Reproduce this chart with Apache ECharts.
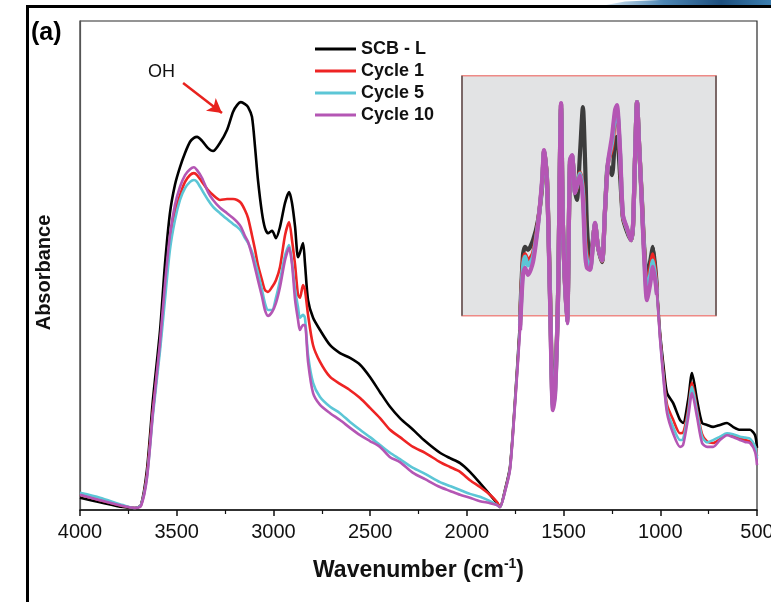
<!DOCTYPE html>
<html>
<head>
<meta charset="utf-8">
<script src="https://cdn.jsdelivr.net/npm/echarts@6/dist/echarts.min.js"></script>
<style>
  html, body { margin: 0; padding: 0; background: #ffffff; }
  #chart { width: 771px; height: 602px; }
</style>
</head>
<body>
<div id="chart"></div>
<script>
// FTIR spectra: wavenumber (cm-1) and absorbance (a.u.) for the raw sample and the recycled ones
const wavenumber = [4000,3897,3778,3716,3685,3654,3623,3586,3561,3535,3509,3483,3457,3431,3411,3395,3369,3338,3312,3276,3240,3209,3188,3168,3147,3131,3111,3095,3080,3059,3044,3028,3007,2987,2966,2940,2919,2904,2888,2873,2863,2847,2837,2821,2795,2759,2707,2656,2604,2552,2501,2449,2397,2346,2278,2216,2139,2087,2035,1984,1932,1880,1844,1829,
  1803,1777,1751,1725,1710,1699,1684,1658,1632,1611,1601,1586,1570,1555,1544,1529,1513,1503,1482,1467,1456,1441,1431,1415,1400,1389,1379,1363,1337,1322,1301,1286,1270,1250,1234,1224,1208,1193,1172,1151,1141,1131,1120,1110,1095,1084,1069,1053,1038,1017,1001,981,965,934,898,882,856,836,810,784,758,727,691,655,624,588,562,536,510,500];

const scbL = [0.025,0.016,0.006,0.004,0.010,0.082,0.225,0.368,0.501,0.607,0.665,0.701,0.730,0.753,0.761,0.763,0.755,0.740,0.734,0.751,0.777,0.814,0.828,0.834,0.830,0.824,0.804,0.742,0.675,0.607,0.577,0.566,0.571,0.556,0.579,0.628,0.650,0.628,0.579,0.517,0.526,0.546,0.505,0.429,0.393,0.368,0.337,0.321,0.311,0.297,0.272,0.241,0.211,0.188,0.164,0.141,0.117,0.106,0.096,0.078,0.055,0.031,0.014,0.006,
  0.041,0.088,0.225,0.389,0.521,0.538,0.532,0.552,0.593,0.661,0.732,0.681,0.444,0.239,0.266,0.429,0.822,0.579,0.389,0.706,0.720,0.654,0.634,0.730,0.824,0.716,0.579,0.505,0.583,0.538,0.507,0.609,0.706,0.685,0.757,0.763,0.685,0.597,0.569,0.552,0.579,0.712,0.834,0.751,0.634,0.542,0.476,0.507,0.538,0.450,0.362,0.286,0.239,0.219,0.184,0.178,0.225,0.280,0.225,0.178,0.174,0.170,0.174,0.178,0.170,0.164,0.164,0.164,0.153,0.127];

const cycle1 = [0.031,0.020,0.008,0.004,0.010,0.072,0.204,0.337,0.450,0.552,0.609,0.644,0.671,0.685,0.689,0.685,0.671,0.654,0.644,0.634,0.636,0.636,0.634,0.628,0.613,0.597,0.562,0.532,0.501,0.470,0.450,0.446,0.456,0.470,0.497,0.562,0.589,0.552,0.501,0.440,0.434,0.460,0.450,0.399,0.337,0.303,0.272,0.258,0.245,0.229,0.209,0.188,0.164,0.149,0.129,0.117,0.098,0.088,0.078,0.061,0.047,0.031,0.016,0.006,
  0.039,0.085,0.220,0.378,0.505,0.523,0.510,0.525,0.588,0.668,0.734,0.678,0.436,0.215,0.245,0.429,0.830,0.579,0.385,0.712,0.724,0.650,0.660,0.690,0.660,0.560,0.520,0.495,0.585,0.538,0.509,0.611,0.710,0.740,0.800,0.815,0.725,0.600,0.574,0.552,0.581,0.714,0.834,0.751,0.630,0.535,0.455,0.490,0.523,0.445,0.355,0.270,0.215,0.185,0.157,0.158,0.205,0.260,0.205,0.155,0.140,0.137,0.145,0.155,0.152,0.147,0.143,0.140,0.130,0.110];

const cycle5 = [0.035,0.025,0.010,0.004,0.010,0.067,0.194,0.327,0.429,0.532,0.593,0.634,0.658,0.671,0.675,0.671,0.654,0.634,0.620,0.607,0.595,0.585,0.579,0.571,0.556,0.546,0.528,0.507,0.485,0.450,0.423,0.409,0.409,0.434,0.470,0.521,0.542,0.507,0.450,0.415,0.393,0.399,0.393,0.317,0.260,0.231,0.211,0.198,0.180,0.164,0.149,0.133,0.117,0.104,0.086,0.074,0.057,0.049,0.041,0.033,0.027,0.018,0.010,0.006,
  0.038,0.084,0.218,0.375,0.495,0.518,0.500,0.518,0.585,0.670,0.734,0.676,0.432,0.210,0.240,0.429,0.830,0.579,0.383,0.714,0.725,0.649,0.662,0.688,0.650,0.545,0.510,0.493,0.586,0.538,0.510,0.612,0.711,0.750,0.808,0.820,0.730,0.602,0.575,0.552,0.582,0.715,0.834,0.751,0.627,0.530,0.445,0.478,0.510,0.442,0.352,0.262,0.205,0.170,0.143,0.145,0.198,0.252,0.200,0.150,0.138,0.143,0.150,0.157,0.155,0.150,0.148,0.146,0.130,0.105];

const cycle10 = [0.031,0.020,0.008,0.004,0.008,0.065,0.200,0.344,0.460,0.562,0.624,0.661,0.685,0.697,0.701,0.695,0.679,0.650,0.634,0.618,0.607,0.597,0.589,0.579,0.560,0.548,0.521,0.495,0.470,0.436,0.409,0.397,0.405,0.423,0.456,0.511,0.536,0.503,0.429,0.389,0.368,0.378,0.378,0.303,0.239,0.215,0.198,0.184,0.168,0.153,0.141,0.129,0.108,0.098,0.076,0.063,0.047,0.039,0.031,0.025,0.018,0.014,0.010,0.006,
  0.037,0.082,0.215,0.368,0.481,0.495,0.481,0.507,0.583,0.675,0.736,0.675,0.429,0.204,0.235,0.429,0.832,0.579,0.382,0.716,0.726,0.648,0.665,0.685,0.634,0.526,0.495,0.491,0.587,0.538,0.511,0.613,0.712,0.763,0.818,0.828,0.736,0.603,0.577,0.552,0.583,0.716,0.834,0.751,0.624,0.521,0.429,0.460,0.497,0.440,0.348,0.256,0.198,0.157,0.129,0.133,0.188,0.239,0.190,0.137,0.129,0.129,0.143,0.153,0.149,0.143,0.139,0.137,0.119,0.092];

const seriesNames = ['SCB - L', 'Cycle 1', 'Cycle 5', 'Cycle 10'];
const seriesColors = ['#000000', '#ee2424', '#5cc6d6', '#b456b4'];
const detailColors = ['#3c3c3c', '#ee2424', '#5cc6d6', '#b456b4'];
const xTicks = [4000, 3500, 3000, 2500, 2000, 1500, 1000, 500];

// highlighted fingerprint window (wavenumber range, absorbance range)
const windowWn = [2025, 712];
const windowAbs = [0.397, 0.888];
// fingerprint band drawn with heavier strokes
const detailWn = [1745, 1005];
// OH arrow (tail, head) in data units
const ohArrow = [[3467, 0.873], [3266, 0.812]];

const allValues = [scbL, cycle1, cycle5, cycle10];
const toPairs = vals => wavenumber.map((w, i) => [w, vals[i]]);
const inDetail = p => p[0] <= detailWn[0] && p[0] >= detailWn[1];

const baseFont = "'Liberation Sans', Arial, Helvetica, sans-serif";

const series = [];
allValues.forEach((vals, k) => {
  const s = {
    name: seriesNames[k],
    type: 'line',
    data: toPairs(vals),
    showSymbol: false,
    smooth: 0.25,
    z: 3 + k,
    lineStyle: { color: seriesColors[k], width: 2.6 },
    itemStyle: { color: seriesColors[k] },
    emphasis: { disabled: true },
    animation: false
  };
  if (k === 0) {
    s.markArea = {
      silent: true,
      z: 1,
      itemStyle: { color: '#e2e3e4', borderColor: '#ee8a86', borderWidth: 1.5 },
      data: [[{ xAxis: windowWn[0], yAxis: windowAbs[0] }, { xAxis: windowWn[1], yAxis: windowAbs[1] }]]
    };
    s.markLine = {
      silent: true,
      symbol: 'none',
      animation: false,
      label: { show: false },
      data: [
        [{ coord: [windowWn[0], windowAbs[0]], lineStyle: { color: '#555', width: 1.5, type: 'solid' } },
         { coord: [windowWn[0], windowAbs[1]] }],
        [{ coord: [windowWn[1], windowAbs[0]], lineStyle: { color: '#555', width: 1.5, type: 'solid' } },
         { coord: [windowWn[1], windowAbs[1]] }]
      ]
    };
  }
  series.push(s);
});
// heavier strokes through the fingerprint window
allValues.forEach((vals, k) => {
  series.push({
    name: seriesNames[k] + ' detail',
    type: 'line',
    data: toPairs(vals).filter(inDetail),
    showSymbol: false,
    smooth: 0.25,
    z: 10 + k,
    lineStyle: { color: detailColors[k], width: 4.2 },
    emphasis: { disabled: true },
    animation: false
  });
});
// OH arrow
series.push({
  name: 'oh-arrow',
  type: 'line',
  data: [],
  markLine: {
    silent: true,
    symbol: ['none', 'arrow'],
    symbolSize: [12, 14],
    animation: false,
    label: { show: false },
    lineStyle: { color: '#e8221e', width: 2.5, type: 'solid' },
    data: [[{ coord: ohArrow[0] }, { coord: ohArrow[1] }]]
  }
});

const chart = echarts.init(document.getElementById('chart'), null, { renderer: 'canvas' });
chart.setOption({
  backgroundColor: '#ffffff',
  animation: false,
  grid: {
    left: 80, right: 14, top: 21, bottom: 92,
    containLabel: false, outerBoundsMode: 'none',
    show: true, borderColor: '#2a2a2a', borderWidth: 1.2, backgroundColor: 'transparent'
  },
  legend: {
    data: seriesNames,
    orient: 'vertical',
    left: 315,
    top: 40,
    padding: 0,
    itemWidth: 41,
    itemHeight: 3,
    itemGap: 4,
    icon: 'rect',
    selectedMode: false,
    textStyle: { fontFamily: baseFont, fontWeight: 'bold', fontSize: 18, color: '#111', lineHeight: 18 }
  },
  xAxis: {
    type: 'value',
    inverse: true,
    min: 500,
    max: 4000,
    interval: 500,
    name: '{t|Wavenumber (cm}{s|-1}{t|)}',
    nameLocation: 'middle',
    nameGap: 47,
    nameTextStyle: {
      rich: {
        t: { fontFamily: baseFont, fontWeight: 'bold', fontSize: 23, color: '#111', lineHeight: 27 },
        s: { fontFamily: baseFont, fontWeight: 'bold', fontSize: 14, color: '#111', lineHeight: 14, verticalAlign: 'top' }
      }
    },
    axisLine: { show: true, lineStyle: { color: '#111', width: 1.5 } },
    axisTick: { show: true, inside: false, length: 6, lineStyle: { color: '#111', width: 1.5 } },
    minorTick: { show: true, splitNumber: 2, length: 4, lineStyle: { color: '#111', width: 1.2 } },
    splitLine: { show: false },
    axisLabel: {
      margin: 12,
      fontFamily: baseFont,
      fontSize: 20,
      color: '#111',
      formatter: v => (xTicks.indexOf(v) >= 0 ? String(v) : '')
    }
  },
  yAxis: {
    type: 'value',
    min: 0,
    max: 1,
    name: 'Absorbance',
    nameLocation: 'middle',
    nameGap: 26,
    nameTextStyle: { fontFamily: baseFont, fontWeight: 'bold', fontSize: 20, color: '#111', padding: [0, 0, 0, -14] },
    axisLine: { show: true, lineStyle: { color: '#555', width: 1.2 } },
    axisTick: { show: false },
    axisLabel: { show: false },
    splitLine: { show: false }
  },
  graphic: [
    // figure frame: top and left rules
    { type: 'rect', shape: { x: 26, y: 5, width: 745, height: 3 }, style: { fill: '#000' }, z: 20 },
    { type: 'rect', shape: { x: 26, y: 5, width: 3, height: 597 }, style: { fill: '#000' }, z: 20 },
    // blue banner edge along the top
    {
      type: 'polygon', z: 19,
      shape: { points: [[606, 5], [625, 1.5], [660, 0], [771, 0], [771, 5]] },
      style: {
        fill: new echarts.graphic.LinearGradient(0, 0, 1, 0, [
          { offset: 0, color: '#d6e6f2' },
          { offset: 0.35, color: '#4d86b4' },
          { offset: 0.7, color: '#1d4f7e' },
          { offset: 1, color: '#3d7fb0' }
        ])
      }
    },
    { type: 'text', left: 31, top: 21, z: 20, style: { text: '(a)', fontFamily: baseFont, fontWeight: 'bold', fontSize: 25, fill: '#000' } },
    { type: 'text', left: 148, top: 63, z: 20, style: { text: 'OH', fontFamily: baseFont, fontSize: 18, fill: '#111' } }
  ],
  series: series
});
</script>
</body>
</html>
